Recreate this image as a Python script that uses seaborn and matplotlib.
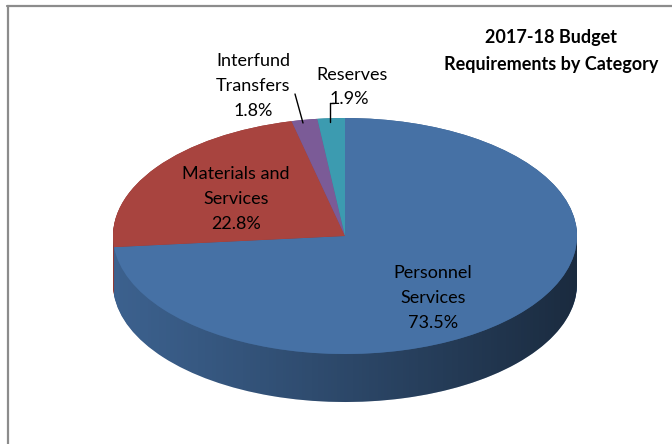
import numpy as np
import matplotlib
matplotlib.use("Agg")
import matplotlib.pyplot as plt
from matplotlib.lines import Line2D
from matplotlib.patches import Polygon
import seaborn as sns

# data
categories = ["Personnel\nServices", "Materials and\nServices", "Interfund\nTransfers", "Reserves"]
shares = [73.5, 22.8, 1.8, 1.9]
top_colors = ["#4671a5", "#a8443f", "#7b5b97", "#3c9bb0"]

sns.set_theme(style="white")
plt.rcParams["font.family"] = ["Lato", "DejaVu Sans"]
plt.rcParams["text.color"] = "black"

W, H = 672, 444
fig = plt.figure(figsize=(W / 100, H / 100), dpi=100)
ax = fig.add_axes([0, 0, 1, 1])

# pie geometry in pixels (center, radii, thickness)
cx, cy, rx, ry, thick = 345, 236, 232, 118, 48
depth = thick / ry


def px(x, y):
    # pixel position -> data coords
    return (x - cx) / rx, (cy - y) / ry


def darker(c, f):
    r, g, b = matplotlib.colors.to_rgb(c)
    return (r * f, g * f, b * f)


side_colors = [darker(c, 0.86) for c in top_colors]

# side wall: stack of pies going down
for d in np.linspace(depth, 0, 60):
    w, _ = ax.pie(shares, colors=side_colors, startangle=90, counterclock=False,
                  center=(0, -d), radius=1, wedgeprops=dict(linewidth=0))
    for p in w:
        p.set_zorder(1)

# horizontal shading on the visible side
t = np.linspace(np.pi, 2 * np.pi, 200)
side_pts = np.concatenate([np.c_[np.cos(t), np.sin(t)],
                           np.c_[np.cos(t[::-1]), np.sin(t[::-1]) - depth]])
clip = Polygon(side_pts, closed=True, transform=ax.transData, facecolor="none", edgecolor="none")
ax.add_patch(clip)
grad = np.zeros((2, 256, 4))
grad[..., 3] = np.linspace(0, 1, 256) ** 1.1 * 0.56
im = ax.imshow(grad, extent=(-1, 1, -1 - depth, 0), aspect="auto", zorder=2,
               interpolation="bilinear")
im.set_clip_path(clip)

# top face
wedges, _ = ax.pie(shares, colors=top_colors, startangle=90, counterclock=False,
                   center=(0, 0), radius=1, wedgeprops=dict(linewidth=0))
for p in wedges:
    p.set_zorder(3)

ax.set_aspect("auto")
ax.set_xlim(-cx / rx, (W - cx) / rx)
ax.set_ylim(-(H - cy) / ry, cy / ry)
ax.axis("off")

# labels
lab_fs = 13
ls = 1.68
pct = ["%.1f%%" % s for s in shares]
ax.text(*px(433, 298), categories[0] + "\n" + pct[0], ha="center", va="center",
        fontsize=lab_fs, linespacing=ls, zorder=5)
ax.text(*px(236, 199), categories[1] + "\n" + pct[1], ha="center", va="center",
        fontsize=lab_fs, linespacing=ls, zorder=5)
ax.text(*px(253, 86), categories[2] + "\n" + pct[2], ha="center", va="center",
        fontsize=lab_fs, linespacing=ls, zorder=5)
ax.text(*px(352, 75), "Reserves", ha="center", va="center", fontsize=lab_fs, zorder=5)
ax.text(*px(349, 99), pct[3], ha="center", va="center", fontsize=lab_fs, zorder=5)

# leader lines
for (x0, y0), (x1, y1) in [((295, 94), (303, 123)), ((330, 103), (330, 122)), ((330, 103), (334, 103))]:
    a, b = px(x0, y0)
    c, d = px(x1, y1)
    ax.plot([a, c], [b, d], color="black", lw=1, zorder=5)

# title
ax.text(*px(551, 51), "2017-18 Budget\nRequirements by Category", ha="center", va="center",
        fontsize=13, fontweight="bold", linespacing=1.7, zorder=5)

# chart area border (top and left edges visible)
fig.add_artist(Line2D([7 / W, 1], [1 - 6 / H, 1 - 6 / H], color="#8c8c8c", lw=1.6))
fig.add_artist(Line2D([7.5 / W, 7.5 / W], [0, 1 - 6 / H], color="#8c8c8c", lw=1.6))

fig.savefig("out.png", dpi=100)
